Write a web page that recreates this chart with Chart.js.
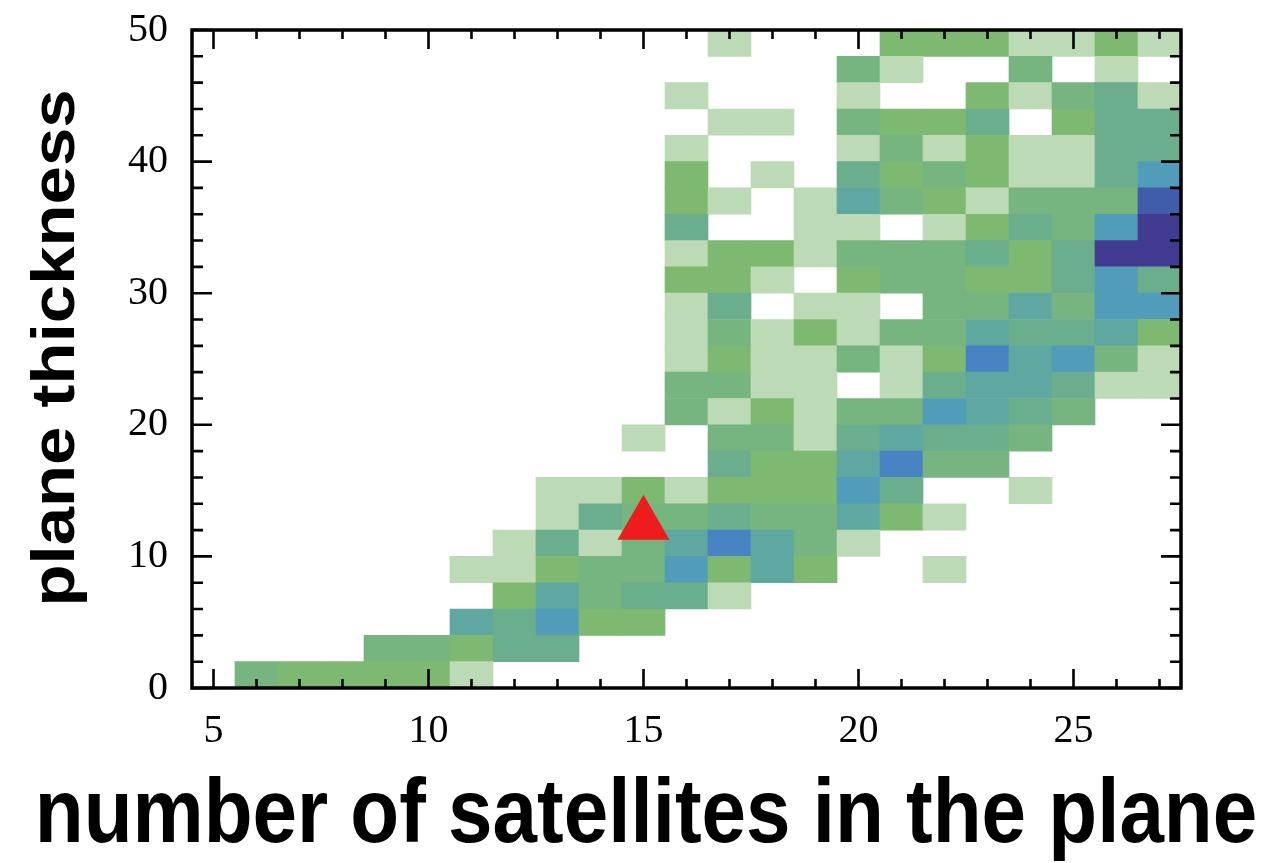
<!DOCTYPE html>
<html>
<head>
  <meta charset="utf-8" />
  <title>Plane thickness vs number of satellites</title>
  <style>
    html, body { margin: 0; padding: 0; background: #fff; }
    #chart { display: block; }
  </style>
</head>
<body>
<canvas id="chart" width="1274" height="863"></canvas>

<script src="https://cdn.jsdelivr.net/npm/chart.js"></script>
<script>
  // number of satellites in the plane (column centres)
  var satellites = [5, 6, 7, 8, 9, 10, 11, 12, 13, 14, 15, 16, 17, 18, 19, 20, 21, 22, 23, 24, 25, 26, 27];
  // lower edge of each thickness bin, top row first
  var thicknessBins = [48, 46, 44, 42, 40, 38, 36, 34, 32, 30, 28, 26, 24, 22, 20, 18, 16, 14, 12, 10, 8, 6, 4, 2, 0];
  var binHeight = 2;

  // colour level of every cell (0 = empty), one row per thickness bin
  //           5  6  7  8  9 10 11 12 13 14 15 16 17 18 19 20 21 22 23 24 25 26 27
  var row48 = [0, 0, 0, 0, 0, 0, 0, 0, 0, 0, 0, 0, 1, 0, 0, 0, 2, 2, 2, 1, 1, 2, 1];
  var row46 = [0, 0, 0, 0, 0, 0, 0, 0, 0, 0, 0, 0, 0, 0, 0, 3, 1, 0, 0, 3, 0, 1, 0];
  var row44 = [0, 0, 0, 0, 0, 0, 0, 0, 0, 0, 0, 1, 0, 0, 0, 1, 0, 0, 2, 1, 3, 4, 1];
  var row42 = [0, 0, 0, 0, 0, 0, 0, 0, 0, 0, 0, 0, 1, 1, 0, 3, 2, 2, 4, 0, 2, 4, 4];
  var row40 = [0, 0, 0, 0, 0, 0, 0, 0, 0, 0, 0, 1, 0, 0, 0, 1, 3, 1, 2, 1, 1, 4, 4];
  var row38 = [0, 0, 0, 0, 0, 0, 0, 0, 0, 0, 0, 2, 0, 1, 0, 4, 2, 3, 2, 1, 1, 4, 6];
  var row36 = [0, 0, 0, 0, 0, 0, 0, 0, 0, 0, 0, 2, 1, 0, 1, 5, 3, 2, 1, 3, 3, 3, 8];
  var row34 = [0, 0, 0, 0, 0, 0, 0, 0, 0, 0, 0, 4, 0, 0, 1, 1, 0, 1, 2, 4, 3, 6, 9];
  var row32 = [0, 0, 0, 0, 0, 0, 0, 0, 0, 0, 0, 1, 2, 2, 1, 3, 3, 3, 4, 2, 4, 9, 9];
  var row30 = [0, 0, 0, 0, 0, 0, 0, 0, 0, 0, 0, 2, 2, 1, 0, 2, 3, 3, 2, 2, 4, 6, 4];
  var row28 = [0, 0, 0, 0, 0, 0, 0, 0, 0, 0, 0, 1, 4, 0, 1, 1, 0, 3, 3, 5, 3, 6, 6];
  var row26 = [0, 0, 0, 0, 0, 0, 0, 0, 0, 0, 0, 1, 3, 1, 2, 1, 3, 3, 5, 4, 4, 5, 2];
  var row24 = [0, 0, 0, 0, 0, 0, 0, 0, 0, 0, 0, 1, 2, 1, 1, 3, 1, 2, 7, 5, 6, 3, 1];
  var row22 = [0, 0, 0, 0, 0, 0, 0, 0, 0, 0, 0, 3, 3, 1, 1, 0, 1, 4, 5, 5, 4, 1, 1];
  var row20 = [0, 0, 0, 0, 0, 0, 0, 0, 0, 0, 0, 3, 1, 2, 1, 3, 3, 6, 5, 4, 3, 0, 0];
  var row18 = [0, 0, 0, 0, 0, 0, 0, 0, 0, 0, 1, 0, 3, 3, 1, 4, 5, 4, 4, 3, 0, 0, 0];
  var row16 = [0, 0, 0, 0, 0, 0, 0, 0, 0, 0, 0, 0, 4, 2, 2, 5, 7, 3, 3, 0, 0, 0, 0];
  var row14 = [0, 0, 0, 0, 0, 0, 0, 0, 1, 1, 2, 1, 2, 2, 2, 6, 4, 0, 0, 1, 0, 0, 0];
  var row12 = [0, 0, 0, 0, 0, 0, 0, 0, 1, 4, 3, 3, 4, 3, 3, 5, 2, 1, 0, 0, 0, 0, 0];
  var row10 = [0, 0, 0, 0, 0, 0, 0, 1, 4, 1, 3, 5, 7, 5, 3, 1, 0, 0, 0, 0, 0, 0, 0];
  var row08 = [0, 0, 0, 0, 0, 0, 1, 1, 2, 3, 3, 6, 2, 5, 2, 0, 0, 1, 0, 0, 0, 0, 0];
  var row06 = [0, 0, 0, 0, 0, 0, 0, 2, 5, 3, 4, 4, 1, 0, 0, 0, 0, 0, 0, 0, 0, 0, 0];
  var row04 = [0, 0, 0, 0, 0, 0, 5, 4, 6, 2, 2, 0, 0, 0, 0, 0, 0, 0, 0, 0, 0, 0, 0];
  var row02 = [0, 0, 0, 0, 3, 3, 2, 4, 4, 0, 0, 0, 0, 0, 0, 0, 0, 0, 0, 0, 0, 0, 0];
  var row00 = [0, 3, 2, 2, 2, 2, 1, 0, 0, 0, 0, 0, 0, 0, 0, 0, 0, 0, 0, 0, 0, 0, 0];
  var levels = [row48, row46, row44, row42, row40, row38, row36, row34, row32, row30, row28, row26, row24,
                row22, row20, row18, row16, row14, row12, row10, row08, row06, row04, row02, row00];

  // observed system (red triangle)
  var observedN = [15];
  var observedThickness = [12.4];

  var xTicks = [5, 10, 15, 20, 25];
  var yTicks = [0, 10, 20, 30, 40, 50];
  var xTitle = 'number of satellites in the plane';
  var yTitle = 'plane thickness';

  // colours for levels 1..9, pale green -> blue -> purple
  var palette = [null, '#bbdab5', '#7eb972', '#76b57f', '#6aae8e', '#5ea8a1', '#519cb8', '#4884c4', '#405caa', '#433a91'];

  var cells = [];
  levels.forEach(function(row, i) {
    row.forEach(function(v, j) {
      if (v > 0) {
        cells.push({x: satellites[j], y: [thicknessBins[i], thicknessBins[i] + binHeight], v: v});
      }
    });
  });

  var marker = observedN.map(function(n, i) { return {x: n, y: observedThickness[i]}; });

  // box around the plot with inward ticks on all four sides
  var frameTicks = {
    id: 'frameTicks',
    afterDraw: function(chart) {
      var ctx = chart.ctx, a = chart.chartArea, x = chart.scales.x, y = chart.scales.y;
      ctx.save();
      ctx.strokeStyle = '#000';
      ctx.lineWidth = 2.6;
      ctx.beginPath();
      for (var v = Math.ceil(x.min); v <= x.max; v++) {
        var px = x.getPixelForValue(v);
        var len = xTicks.indexOf(v) >= 0 ? 19 : 9;
        ctx.moveTo(px, a.bottom); ctx.lineTo(px, a.bottom - len);
        ctx.moveTo(px, a.top); ctx.lineTo(px, a.top + len);
      }
      for (var w = y.min; w <= y.max; w += binHeight) {
        var py = y.getPixelForValue(w);
        var l2 = yTicks.indexOf(w) >= 0 ? 20 : 11;
        ctx.moveTo(a.left, py); ctx.lineTo(a.left + l2, py);
        ctx.moveTo(a.right, py); ctx.lineTo(a.right - l2, py);
      }
      ctx.stroke();
      ctx.lineWidth = 3.5;
      ctx.strokeRect(a.left, a.top, a.right - a.left, a.bottom - a.top);
      ctx.restore();
    }
  };

  // axis titles, slightly stretched along their height like the original figure
  var axisTitles = {
    id: 'axisTitles',
    afterDraw: function(chart) {
      var ctx = chart.ctx;
      ctx.save();
      ctx.fillStyle = '#000';
      ctx.textAlign = 'center';
      ctx.font = 'bold 80px ' + titleFamily;
      ctx.textBaseline = 'alphabetic';
      ctx.translate(646, 842);
      ctx.scale(1, 1.13);
      ctx.fillText(xTitle, 0, 0);
      ctx.restore();

      ctx.save();
      ctx.fillStyle = '#000';
      ctx.textAlign = 'center';
      ctx.textBaseline = 'middle';
      ctx.font = 'bold 61px ' + titleFamily;
      ctx.translate(57, 348);
      ctx.rotate(-Math.PI / 2);
      ctx.scale(1.13, 1);
      ctx.fillText(yTitle, 0, 0);
      ctx.restore();
    }
  };

  var tickFont = {family: '"Liberation Serif", "Times New Roman", serif', size: 40};
  var titleFamily = '"Liberation Sans", Arial, Helvetica, sans-serif';

  function noPad(s) {
    s.paddingTop = 0; s.paddingBottom = 0; s.paddingLeft = 0; s.paddingRight = 0;
  }

  var chart = new Chart(document.getElementById('chart').getContext('2d'), {
    type: 'bar',
    data: {
      datasets: [{
        type: 'scatter',
        data: marker,
        pointStyle: 'triangle',
        pointRadius: 30,
        pointHoverRadius: 30,
        backgroundColor: '#ee1c1c',
        borderColor: '#ee1c1c',
        borderWidth: 0,
        order: 0
      }, {
        data: cells,
        backgroundColor: function(c) { return c.raw ? palette[c.raw.v] : null; },
        borderWidth: 0,
        barPercentage: 1,
        categoryPercentage: 1,
        grouped: false,
        order: 1
      }]
    },
    options: {
      responsive: false,
      animation: false,
      layout: { padding: { left: 0, top: 30, right: 0, bottom: 95 } },
      plugins: {
        legend: { display: false },
        tooltip: { enabled: false }
      },
      scales: {
        x: {
          type: 'linear',
          min: 4.5,
          max: 27.5,
          offset: false,
          grid: { display: false, drawTicks: false, offset: false },
          border: { display: false },
          ticks: { font: tickFont, color: '#000', padding: 19, maxRotation: 0 },
          afterBuildTicks: function(s) { s.ticks = xTicks.map(function(v) { return {value: v}; }); },
          afterFit: function(s) { s.height = 80; noPad(s); }
        },
        y: {
          type: 'linear',
          min: 0,
          max: 50,
          grid: { display: false, drawTicks: false },
          border: { display: false },
          ticks: { font: tickFont, color: '#000', padding: 24 },
          afterBuildTicks: function(s) { s.ticks = yTicks.map(function(v) { return {value: v}; }); },
          afterFit: function(s) { s.width = 192; noPad(s); }
        },
        yRight: {
          type: 'linear',
          position: 'right',
          min: 0,
          max: 50,
          grid: { display: false, drawTicks: false },
          border: { display: false },
          ticks: { display: false },
          afterFit: function(s) { s.width = 93; noPad(s); }
        }
      }
    },
    plugins: [frameTicks, axisTitles]
  });
</script>
</body>
</html>
